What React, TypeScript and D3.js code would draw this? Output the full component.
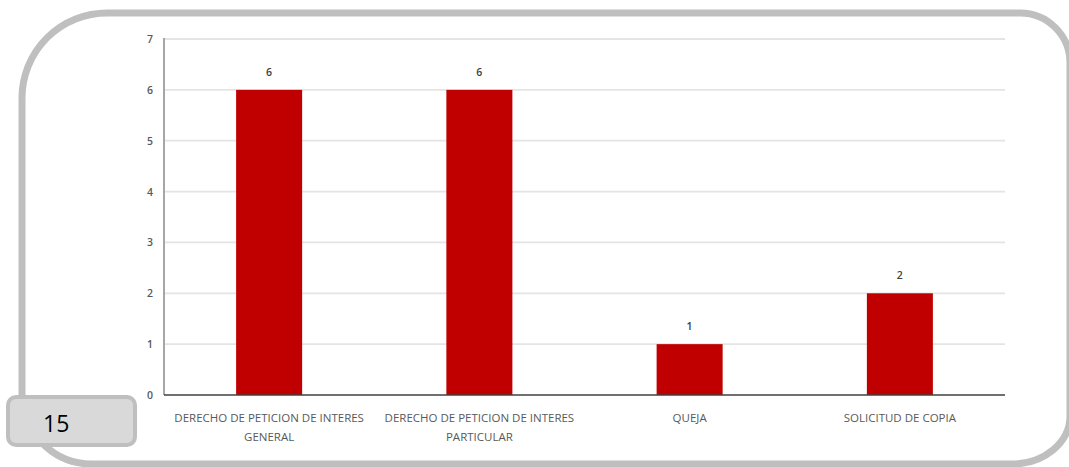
import React from "react";
import * as d3 from "d3";

const categories: string[][] = [
  ["DERECHO DE PETICION DE INTERES", "GENERAL"],
  ["DERECHO DE PETICION DE INTERES", "PARTICULAR"],
  ["QUEJA"],
  ["SOLICITUD DE COPIA"],
];
const values: number[] = [6, 6, 1, 2];
const yTicks: number[] = [0, 1, 2, 3, 4, 5, 6, 7];
const pageLabel = "15";

const W = 1069;
const H = 467;
const FONT = "'Open Sans', Arial, sans-serif";

function framePath() {
  const x0 = 22, y0 = 13, x1 = 1070, y1 = 464;
  const tl = 85, bl = 70;
  const trx = 50, try_ = 50;
  const brx = 58, bry = 48;
  return [
    `M${x0 + tl},${y0}`,
    `L${x1 - trx},${y0}`,
    `A${trx},${try_} 0 0 1 ${x1},${y0 + try_}`,
    `L${x1},${y1 - bry}`,
    `A${brx},${bry} 0 0 1 ${x1 - brx},${y1}`,
    `L${x0 + bl},${y1}`,
    `A${bl},${bl} 0 0 1 ${x0},${y1 - bl}`,
    `L${x0},${y0 + tl}`,
    `A${tl},${tl} 0 0 1 ${x0 + tl},${y0}`,
    "Z",
  ].join(" ");
}

export default function App() {
  const left = 164;
  const right = 1005;
  const x = d3
    .scaleBand<number>()
    .domain(d3.range(values.length))
    .range([left, right])
    .paddingInner(0.686)
    .paddingOuter(0.343);
  const y = d3.scaleLinear().domain([0, 7]).range([395, 39]);

  return (
    <svg
      width={W}
      height={H}
      style={{ position: "absolute", left: 0, top: 0, background: "#fff", overflow: "hidden" }}
    >
      <path d={framePath()} fill="none" stroke="#bfbfbf" strokeWidth={7} />
      {yTicks.slice(1).map((t) => (
        <line
          key={"g" + t}
          x1={left}
          x2={right}
          y1={y(t)}
          y2={y(t)}
          stroke="#e4e4e4"
          strokeWidth={1.8}
        />
      ))}
      <line x1={left} x2={left} y1={y(7) - 1} y2={y(0)} stroke="#a6a6a6" strokeWidth={2} />
      {yTicks.map((t) => (
        <text
          key={"t" + t}
          x={153}
          y={y(t) + 4}
          textAnchor="end"
          fontFamily={FONT}
          fontSize={10.5}
          fontWeight={600}
          fill="#595959"
        >
          {t}
        </text>
      ))}
      {values.map((v, i) => (
        <g key={"b" + i}>
          <rect
            x={x(i)}
            y={y(v)}
            width={x.bandwidth()}
            height={y(0) - y(v)}
            fill="#c00000"
          />
          <text
            x={(x(i) as number) + x.bandwidth() / 2}
            y={y(v) - 14}
            textAnchor="middle"
            fontFamily={FONT}
            fontSize={10.5}
            fontWeight={600}
            fill="#404040"
          >
            {v}
          </text>
          {categories[i].map((line, j) => (
            <text
              key={j}
              x={(x(i) as number) + x.bandwidth() / 2}
              y={422 + j * 19}
              textAnchor="middle"
              fontFamily={FONT}
              fontSize={11.5}
              fill="#595959"
            >
              {line}
            </text>
          ))}
        </g>
      ))}
      <line x1={left} x2={right} y1={y(0)} y2={y(0)} stroke="#404040" strokeWidth={1.5} />
      <rect
        x={8}
        y={397}
        width={127}
        height={48}
        rx={8}
        ry={8}
        fill="#d9d9d9"
        stroke="#bfbfbf"
        strokeWidth={4}
      />
      <text
        x={43}
        y={432}
        fontFamily="'Open Sans', 'Liberation Sans', sans-serif"
        fontSize={23}
        fill="#000"
      >
        {pageLabel}
      </text>
    </svg>
  );
}
